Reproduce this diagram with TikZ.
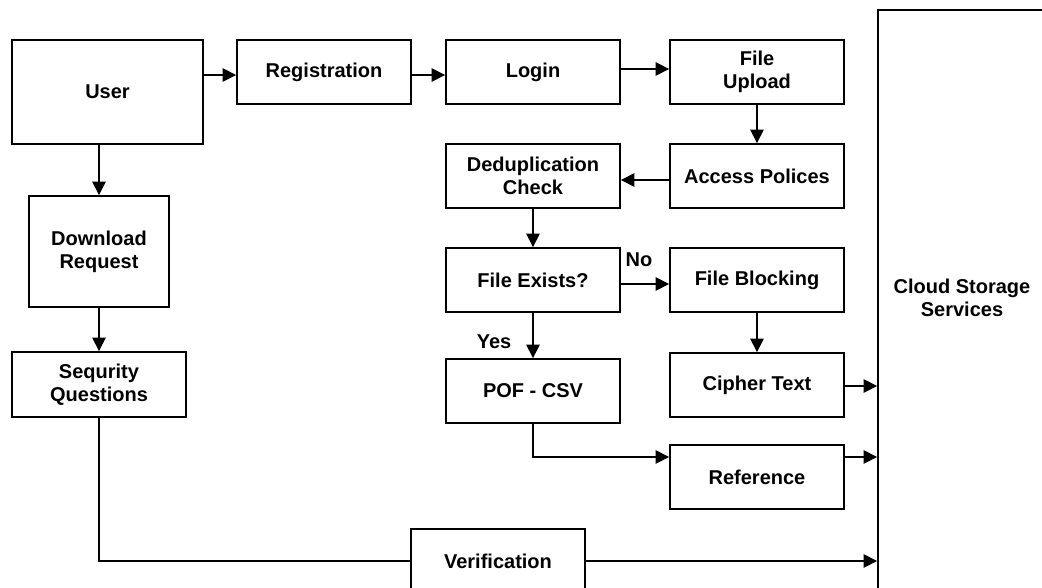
\documentclass[tikz,border=0pt]{standalone}
\usepackage{fontspec}
\setmainfont{Liberation Sans}
\usetikzlibrary{arrows.meta}
\begin{document}
\begin{tikzpicture}[x=0.75pt,y=-0.75pt,
  box/.style={draw, line width=1.4pt, inner sep=0pt, align=center,
    font=\fontsize{15}{17}\selectfont\bfseries},
  std/.style={box, minimum width=130.5pt, minimum height=48pt},
  arr/.style={line width=1.1pt, -{Triangle[length=10pt,width=10pt]}},
  ln/.style={line width=1.1pt},
  lbl/.style={font=\fontsize{15}{17}\selectfont\bfseries, inner sep=0pt}]
\useasboundingbox (0,0) rectangle (1042,588);
\clip (0,0) rectangle (1042,588);
\fill[white] (0,0) rectangle (1042,588);
% boxes
\node[box, minimum width=143.25pt, minimum height=78pt] (user) at (107.5,92) {User};
\node[std] (reg) at (324,72) {Registration};
\node[std] (login) at (533,72) {Login};
\node[std] (upload) at (757,72) {File\\Upload};
\node[std] (access) at (757,176) {Access Polices};
\node[std] (dedup) at (533,176) {Deduplication\\Check};
\node[std] (exists) at (533,280) {File Exists?};
\node[std] (block) at (757,280) {File Blocking};
\node[std] (cipher) at (757,385) {Cipher Text};
\node[std] (pof) at (533,391) {POF - CSV};
\node[std] (refn) at (757,477) {Reference};
\node[box, minimum width=105pt, minimum height=83.25pt] (download) at (99,251.5) {Download\\Request};
\node[box, minimum width=130.5pt, minimum height=48.75pt] (seq) at (99,384.5) {Sequrity\\Questions};
\node[std] (verif) at (498,561) {Verification};
\node[box, minimum width=126pt, minimum height=438pt,
  label={[lbl, align=center, yshift=3pt]center:Cloud Storage\\Services}] (cloud) at (962,302) {};
% labels
\node[lbl] (no) at (639,260) {No};
\node[lbl] (yes) at (494,342) {Yes};
% connectors
\draw[arr] (user.east |- 0,75) -- (reg.west |- 0,75);
\draw[arr] (reg.east |- 0,75) -- (login.west |- 0,75);
\draw[arr] (login.east |- 0,69) -- (upload.west |- 0,69);
\draw[arr] (upload.south) -- (access.north);
\draw[arr] (access.west |- 0,180) -- (dedup.east |- 0,180);
\draw[arr] (dedup.south) -- (exists.north);
\draw[arr] (exists.east |- 0,284) -- (block.west |- 0,284);
\draw[arr] (exists.south) -- (pof.north);
\draw[arr] (block.south) -- (cipher.north);
\draw[arr] (cipher.east |- 0,386) -- (cloud.west |- 0,386);
\draw[arr] (pof.south) |- (refn.west |- 0,457);
\draw[arr] (refn.east |- 0,457) -- (cloud.west |- 0,457);
\draw[arr] (user.south -| 99,0) -- (download.north);
\draw[arr] (download.south) -- (seq.north);
\draw[ln] (seq.south) |- (verif.west);
\draw[arr] (verif.east) -- (cloud.west |- verif.east);
\end{tikzpicture}
\end{document}
